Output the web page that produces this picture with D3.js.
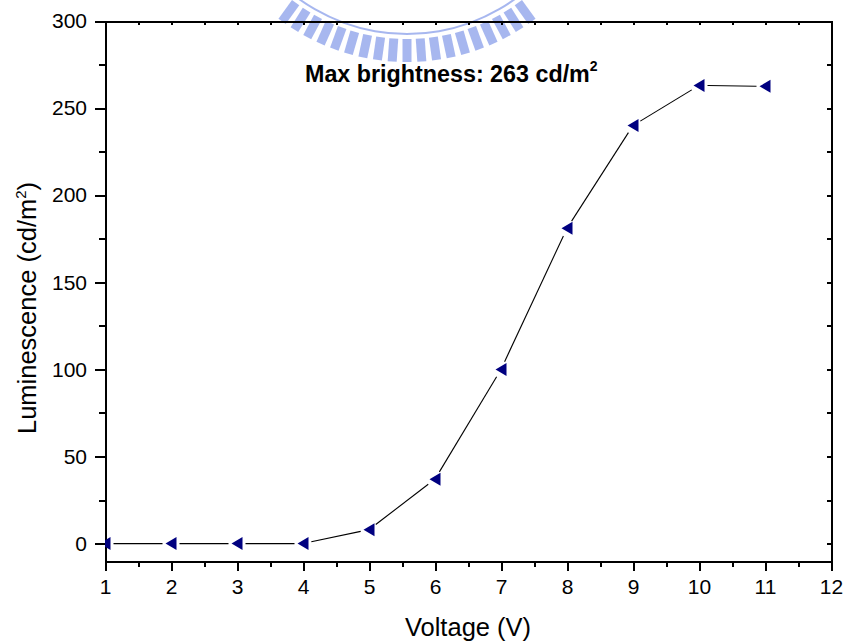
<!DOCTYPE html>
<meta charset="utf-8">
<style>
body { margin: 0; background: #fff; }
svg { display: block; font-family: "Liberation Sans", Arial, sans-serif; }
.axis path, .axis line { stroke: #000; stroke-width: 2; shape-rendering: crispEdges; }
.axis text { font-size: 21px; fill: #000; }
.title { font-size: 25.5px; fill: #000; }
.note { font-size: 23.3px; font-weight: bold; fill: #000; }
.line { fill: none; stroke: #000; stroke-width: 1.1; }
.mark { fill: #000080; }
.logo { fill: #8299e8; opacity: 0.7; }
</style>
<svg width="844" height="643"></svg>
<script src="https://d3js.org/d3.v7.min.js"></script>
<script>
// luminescence vs voltage
var voltage = [1, 2, 3, 4, 5, 6, 7, 8, 9, 10, 11];
var luminance = [0, 0, 0, 0, 8, 37, 100, 181, 240, 263, 262.5];
var xTicks = [1, 2, 3, 4, 5, 6, 7, 8, 9, 10, 11, 12];
var yTicks = [0, 50, 100, 150, 200, 250, 300];

var svg = d3.select("svg");
var pLeft = 105, pRight = 831, pTop = 21, pBottom = 561;

var x = d3.scaleLinear().domain([1, 12]).range([pLeft, pRight]);
var y = d3.scaleLinear().domain([-10, 300]).range([pBottom, pTop]);

// watermark logo (half gear at the top)
var logo = svg.append("g").attr("transform", "translate(407,-150)");
var teeth = d3.range(-0.63, 0.64, 0.07);
logo.selectAll("rect")
    .data(teeth)
    .enter().append("rect")
        .attr("class", "logo")
        .attr("x", -4.5).attr("y", 189)
        .attr("width", 9).attr("height", 23)
        .attr("transform", function(a) { return "rotate(" + (a * 180 / Math.PI) + ")"; });
logo.append("path")
    .attr("d", d3.arc()({innerRadius: 183, outerRadius: 185, startAngle: Math.PI - 0.7, endAngle: Math.PI + 0.7}))
    .attr("class", "logo");

var minorX = d3.range(1.5, 12, 1);
var allX = d3.range(1, 12.01, 0.5);
var minorY = d3.range(25, 300, 50);
var allY = d3.range(0, 301, 25);

// bottom
svg.append("g").attr("class", "axis")
    .attr("transform", "translate(0," + pBottom + ")")
    .call(d3.axisBottom(x).tickValues(xTicks).tickSize(10).tickSizeOuter(0).tickPadding(8));
svg.append("g").attr("class", "axis")
    .attr("transform", "translate(0," + pBottom + ")")
    .call(d3.axisBottom(x).tickValues(minorX).tickSize(6).tickFormat(""))
    .select(".domain").remove();
// left
svg.append("g").attr("class", "axis")
    .attr("transform", "translate(" + pLeft + ",0)")
    .call(d3.axisLeft(y).tickValues(yTicks).tickSize(10).tickSizeOuter(0).tickPadding(8));
svg.append("g").attr("class", "axis")
    .attr("transform", "translate(" + pLeft + ",0)")
    .call(d3.axisLeft(y).tickValues(minorY).tickSize(6).tickFormat(""))
    .select(".domain").remove();
// top, ticks inward
svg.append("g").attr("class", "axis")
    .attr("transform", "translate(0," + pTop + ")")
    .call(d3.axisBottom(x).tickValues(allX).tickSize(4).tickSizeOuter(0).tickFormat(""));
// right, ticks inward
svg.append("g").attr("class", "axis")
    .attr("transform", "translate(" + pRight + ",0)")
    .call(d3.axisLeft(y).tickValues(allY).tickSize(4).tickSizeOuter(0).tickFormat(""));

// line with gaps around markers
var pts = voltage.map(function(v, i) { return [x(v), y(luminance[i])]; });
var gap = 8.5;
var segs = [];
for (var i = 0; i < pts.length - 1; i++) {
    var a = pts[i], b = pts[i + 1];
    var dx = b[0] - a[0], dy = b[1] - a[1], len = Math.sqrt(dx * dx + dy * dy);
    var ux = dx / len, uy = dy / len;
    segs.push([[a[0] + ux * gap, a[1] + uy * gap], [b[0] - ux * gap, b[1] - uy * gap]]);
}
svg.append("g").selectAll("path")
    .data(segs)
    .enter().append("path")
        .attr("class", "line")
        .attr("d", d3.line());

svg.append("clipPath").attr("id", "plot")
    .append("rect")
        .attr("x", pLeft).attr("y", pTop)
        .attr("width", pRight - pLeft).attr("height", pBottom - pTop);

svg.append("g").attr("clip-path", "url(#plot)")
    .selectAll("path")
    .data(voltage)
    .enter().append("path")
        .attr("class", "mark")
        .attr("d", "M-5.5,0L5.5,-6.5L5.5,6.5Z")
        .attr("transform", function(d, i) { return "translate(" + x(d) + "," + y(luminance[i]) + ")"; });

// titles
svg.append("text")
    .attr("class", "title")
    .attr("x", (pLeft + pRight) / 2).attr("y", 636)
    .style("text-anchor", "middle")
    .text("Voltage (V)");

var yl = svg.append("text")
    .attr("class", "title")
    .attr("transform", "translate(36,308) rotate(-90)")
    .style("text-anchor", "middle");
yl.append("tspan").text("Luminescence (cd/m");
yl.append("tspan").attr("dy", -10).style("font-size", "15px").text("2");
yl.append("tspan").attr("dy", 10).text(")");

var note = svg.append("text")
    .attr("class", "note")
    .attr("x", 305).attr("y", 82);
note.append("tspan").text("Max brightness: 263 cd/m");
note.append("tspan").attr("dy", -11).style("font-size", "14px").text("2");
</script>
